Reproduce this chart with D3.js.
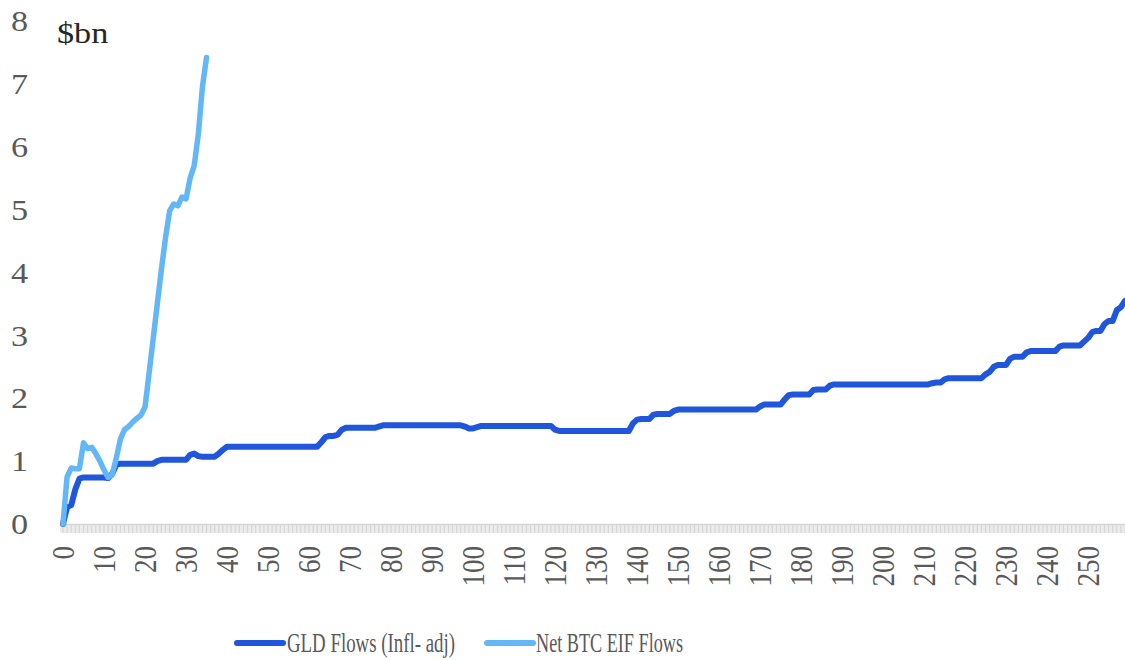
<!DOCTYPE html>
<html>
<head>
<meta charset="utf-8">
<script src="https://cdn.jsdelivr.net/npm/d3@7"></script>
<style>
  html, body { margin: 0; padding: 0; background: #fff; }
  svg { display: block; }
</style>
</head>
<body>
<svg id="chart" width="1125" height="660"></svg>
<script>
// ---- data ----
const yTicks = [0, 1, 2, 3, 4, 5, 6, 7, 8];
const xTickLabels = [0, 10, 20, 30, 40, 50, 60, 70, 80, 90, 100, 110, 120, 130, 140, 150, 160, 170, 180, 190, 200, 210, 220, 230, 240, 250];
const seriesNames = ["GLD Flows (Infl- adj)", "Net BTC EIF Flows"];
const unitLabel = "$bn";

const gldFlows = [
  0, 0.27, 0.3, 0.55, 0.72, 0.74, 0.74, 0.74, 0.74, 0.74,
  0.74, 0.73, 0.8, 0.94, 0.96, 0.96, 0.96, 0.96, 0.96, 0.96,
  0.96, 0.96, 0.96, 1.0, 1.02, 1.02, 1.02, 1.02, 1.02, 1.02,
  1.02, 1.1, 1.12, 1.08, 1.07, 1.07, 1.07, 1.07, 1.12, 1.18,
  1.23, 1.23, 1.23, 1.23, 1.23, 1.23, 1.23, 1.23, 1.23, 1.23,
  1.23, 1.23, 1.23, 1.23, 1.23, 1.23, 1.23, 1.23, 1.23, 1.23,
  1.23, 1.23, 1.23, 1.3, 1.38, 1.4, 1.4, 1.42, 1.5, 1.53,
  1.53, 1.53, 1.53, 1.53, 1.53, 1.53, 1.53, 1.55, 1.57, 1.57,
  1.57, 1.57, 1.57, 1.57, 1.57, 1.57, 1.57, 1.57, 1.57, 1.57,
  1.57, 1.57, 1.57, 1.57, 1.57, 1.57, 1.57, 1.57, 1.55, 1.52,
  1.52, 1.54, 1.56, 1.56, 1.56, 1.56, 1.56, 1.56, 1.56, 1.56,
  1.56, 1.56, 1.56, 1.56, 1.56, 1.56, 1.56, 1.56, 1.56, 1.56,
  1.5, 1.48, 1.48, 1.48, 1.48, 1.48, 1.48, 1.48, 1.48, 1.48,
  1.48, 1.48, 1.48, 1.48, 1.48, 1.48, 1.48, 1.48, 1.48, 1.6,
  1.66, 1.67, 1.67, 1.67, 1.74, 1.75, 1.75, 1.75, 1.75, 1.8,
  1.82, 1.82, 1.82, 1.82, 1.82, 1.82, 1.82, 1.82, 1.82, 1.82,
  1.82, 1.82, 1.82, 1.82, 1.82, 1.82, 1.82, 1.82, 1.82, 1.82,
  1.87, 1.9, 1.9, 1.9, 1.9, 1.9, 1.98, 2.05, 2.06, 2.06,
  2.06, 2.06, 2.06, 2.13, 2.14, 2.14, 2.14, 2.2, 2.22, 2.22,
  2.22, 2.22, 2.22, 2.22, 2.22, 2.22, 2.22, 2.22, 2.22, 2.22,
  2.22, 2.22, 2.22, 2.22, 2.22, 2.22, 2.22, 2.22, 2.22, 2.22,
  2.22, 2.22, 2.24, 2.25, 2.25, 2.3, 2.32, 2.32, 2.32, 2.32,
  2.32, 2.32, 2.32, 2.32, 2.32, 2.38, 2.42, 2.5, 2.53, 2.53,
  2.53, 2.63, 2.66, 2.66, 2.66, 2.73, 2.75, 2.75, 2.75, 2.75,
  2.75, 2.75, 2.75, 2.82, 2.84, 2.84, 2.84, 2.84, 2.84, 2.9,
  2.96, 3.05, 3.07, 3.07, 3.18, 3.23, 3.23, 3.4, 3.45, 3.55
];

const btcFlows = [
  0, 0.75, 0.89, 0.88, 0.88, 1.29, 1.2, 1.22, 1.12, 1.0,
  0.86, 0.74, 0.78, 1.05, 1.35, 1.5, 1.55, 1.62, 1.68, 1.73,
  1.86, 2.4, 2.95, 3.5, 4.05, 4.55, 4.98, 5.09, 5.06, 5.2,
  5.17, 5.5, 5.7, 6.2, 6.95, 7.42
];

// ---- layout ----
const svg = d3.select("#chart");
const W = 1125, H = 660;
const x = d3.scaleLinear().domain([0, gldFlows.length - 1]).range([63, 1125]);
const y = d3.scaleLinear().domain([0, 8]).range([524, 21]);

const serif = "'Liberation Serif', 'DejaVu Serif', serif";
const gldColor = "#1f56dc";
const btcColor = "#63b7f6";
const stretch = 1.18; // glyphs in the reference are horizontally widened

// y-axis labels
svg.append("g").selectAll("text").data(yTicks).join("text")
  .attr("transform", d => `translate(28,${y(d)}) scale(${stretch},1)`)
  .attr("dy", "0.35em")
  .attr("text-anchor", "end")
  .attr("font-family", serif).attr("font-size", 29).attr("fill", "#595959")
  .text(d => d);

svg.append("text")
  .attr("transform", `translate(57,43) scale(${stretch},1)`)
  .attr("font-family", serif).attr("font-size", 29).attr("fill", "#262626")
  .text(unitLabel);

// x axis: line + dense category ticks
const axisG = svg.append("g");
axisG.append("rect")
  .attr("x", 60).attr("y", 524).attr("width", W - 60).attr("height", 9)
  .attr("fill", "#ececec");
axisG.selectAll("line.tick").data(d3.range(gldFlows.length)).join("line")
  .attr("class", "tick")
  .attr("x1", d => x(d)).attr("x2", d => x(d))
  .attr("y1", 524).attr("y2", 533)
  .attr("stroke", "#d6d6d6").attr("stroke-width", 1.2);
axisG.append("line")
  .attr("x1", 60).attr("x2", W).attr("y1", 524.5).attr("y2", 524.5)
  .attr("stroke", "#d6d6d6").attr("stroke-width", 1.5);

// x labels rotated
svg.append("g").selectAll("text").data(xTickLabels).join("text")
  .attr("transform", d => `translate(${x(d)},546) scale(${stretch},1) rotate(-90)`)
  .attr("dy", "0.35em")
  .attr("text-anchor", "end")
  .attr("font-family", serif).attr("font-size", 27).attr("fill", "#595959")
  .text(d => d);

// lines
const line = d3.line().x((d, i) => x(i)).y(d => y(d));
svg.append("path").datum(gldFlows)
  .attr("d", line).attr("fill", "none")
  .attr("stroke", gldColor).attr("stroke-width", 6)
  .attr("stroke-linejoin", "round").attr("stroke-linecap", "round");
svg.append("path").datum(btcFlows)
  .attr("d", line).attr("fill", "none")
  .attr("stroke", btcColor).attr("stroke-width", 5.5)
  .attr("stroke-linejoin", "round").attr("stroke-linecap", "round");

// legend
const legendItems = [
  { name: seriesNames[0], color: gldColor, x0: 237, tx: 287, tw: 168 },
  { name: seriesNames[1], color: btcColor, x0: 487, tx: 536, tw: 147 }
];
const lg = svg.append("g");
legendItems.forEach(it => {
  lg.append("line").attr("x1", it.x0).attr("x2", it.x0 + 46)
    .attr("y1", 643).attr("y2", 643)
    .attr("stroke", it.color).attr("stroke-width", 6).attr("stroke-linecap", "round");
  lg.append("text").attr("x", it.tx).attr("y", 652)
    .attr("font-family", serif).attr("font-size", 27).attr("fill", "#595959")
    .attr("textLength", it.tw).attr("lengthAdjust", "spacingAndGlyphs")
    .text(it.name);
});
</script>
</body>
</html>
